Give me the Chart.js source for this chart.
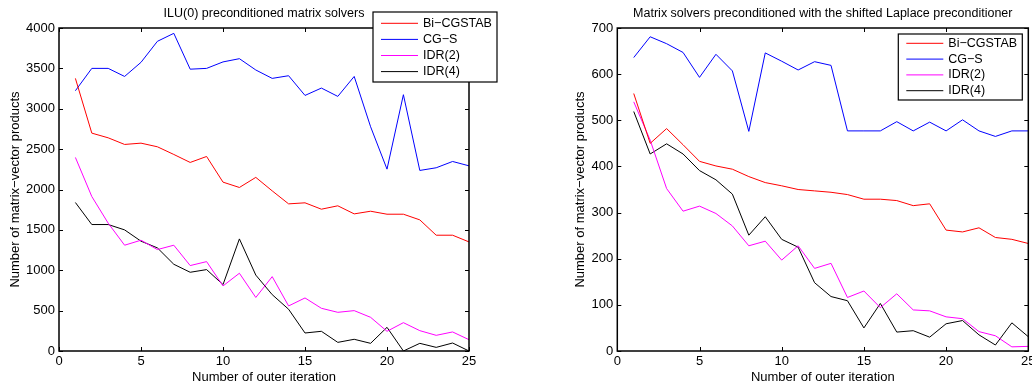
<!DOCTYPE html>
<html>
<head>
<meta charset="utf-8">
<script src="https://cdn.jsdelivr.net/npm/chart.js@4/dist/chart.umd.min.js"></script>
<style>
  html, body { margin: 0; padding: 0; background: #fff; }
  #wrap { position: relative; width: 1032px; height: 385px; }
  .pane { position: absolute; top: 0; width: 516px; height: 385px; }
</style>
</head>
<body>
<div id="wrap">
  <div class="pane" style="left:0"><canvas id="c1"></canvas></div>
  <div class="pane" style="left:516px"><canvas id="c2"></canvas></div>
</div>
<script>
/* ---- data ---- */
const iterations = [1, 2, 3, 4, 5, 6, 7, 8, 9, 10, 11, 12, 13, 14, 15, 16, 17, 18, 19, 20, 21, 22, 23, 24, 25];
const seriesNames = ["Bi\u2212CGSTAB", "CG\u2212S", "IDR(2)", "IDR(4)"];
const seriesColors = ["#ff0000", "#0000ff", "#ff00ff", "#000000"];

// ILU(0) preconditioned
const iluBiCGSTAB = [3376, 2698, 2640, 2558, 2574, 2529, 2434, 2335, 2409, 2091, 2025, 2150, 1983, 1822, 1835, 1756, 1798, 1698, 1731, 1694, 1694, 1624, 1434, 1434, 1351];
const iluCGS      = [3223, 3500, 3500, 3400, 3575, 3835, 3934, 3490, 3500, 3580, 3620, 3480, 3376, 3409, 3165, 3256, 3153, 3400, 2777, 2252, 3174, 2236, 2269, 2347, 2293];
const iluIDR2     = [2397, 1913, 1583, 1310, 1372, 1256, 1310, 1058, 1107, 806, 963, 663, 921, 558, 657, 529, 479, 500, 417, 244, 351, 252, 194, 236, 140];
const iluIDR4     = [1839, 1566, 1566, 1500, 1360, 1277, 1074, 975, 1008, 822, 1388, 940, 698, 517, 223, 244, 107, 145, 95, 293, 0, 95, 45, 99, 0];

// shifted Laplace preconditioned
const slBiCGSTAB = [558, 450, 482, 447, 411, 401, 394, 378, 365, 358, 350, 347, 344, 339, 329, 329, 326, 315, 319, 262, 258, 267, 246, 242, 233];
const slCGS      = [636, 681, 666, 647, 593, 643, 607, 476, 646, 628, 609, 627, 619, 477, 477, 477, 497, 477, 496, 477, 501, 477, 465, 477, 477];
const slIDR2     = [540, 457, 352, 303, 314, 298, 271, 228, 238, 197, 228, 179, 190, 116, 130, 94, 124, 89, 87, 74, 70, 42, 33, 9, 10];
const slIDR4     = [519, 427, 449, 427, 391, 371, 340, 251, 291, 242, 225, 148, 118, 109, 50, 103, 41, 44, 30, 59, 66, 35, 13, 61, 31];

const xTitle = "Number of outer iteration";
const yTitle = "Number of matrix\u2212vector products";

const FONT = '"Liberation Sans", Arial, Helvetica, sans-serif';
Chart.defaults.font.family = FONT;
Chart.defaults.color = "#000";

/* ---- plugin: caja estilo Matlab con ticks hacia dentro ---- */
const matlabFrame = {
  id: "matlabFrame",
  afterDatasetsDraw(chart) {
    const { ctx, chartArea: a, scales: { x, y } } = chart;
    const len = 4;
    ctx.save();
    ctx.strokeStyle = "#000";
    ctx.lineWidth = 1;
    ctx.beginPath();
    x.ticks.forEach((t) => {
      const px = Math.round(x.getPixelForValue(t.value)) + 0.5;
      ctx.moveTo(px, a.bottom); ctx.lineTo(px, a.bottom - len);
      ctx.moveTo(px, a.top); ctx.lineTo(px, a.top + len);
    });
    y.ticks.forEach((t) => {
      const py = Math.round(y.getPixelForValue(t.value)) + 0.5;
      ctx.moveTo(a.left, py); ctx.lineTo(a.left + len, py);
      ctx.moveTo(a.right, py); ctx.lineTo(a.right - len, py);
    });
    ctx.stroke();
    ctx.lineWidth = 1.5;
    ctx.strokeRect(a.left, a.top, a.right - a.left, a.bottom - a.top);
    ctx.restore();
  },
};

/* ---- plugin: leyenda con recuadro ---- */
const matlabLegend = {
  id: "matlabLegend",
  afterDraw(chart, _args, opts) {
    const { ctx, chartArea: a } = chart;
    const x0 = a.right + opts.offsetRight - opts.width;
    const y0 = a.top + opts.offsetTop;
    ctx.save();
    ctx.fillStyle = "#fff";
    ctx.fillRect(x0, y0, opts.width, opts.height);
    ctx.strokeStyle = "#000";
    ctx.lineWidth = 1.2;
    ctx.strokeRect(x0, y0, opts.width, opts.height);
    ctx.font = "12.5px " + FONT;
    ctx.textBaseline = "middle";
    chart.data.datasets.forEach((ds, i) => {
      const yy = y0 + opts.firstRow + i * opts.rowStep;
      ctx.strokeStyle = ds.borderColor;
      ctx.lineWidth = 1;
      ctx.beginPath();
      ctx.moveTo(x0 + 8, yy);
      ctx.lineTo(x0 + 45, yy);
      ctx.stroke();
      ctx.fillStyle = "#000";
      ctx.fillText(ds.label, x0 + 50, yy);
    });
    ctx.restore();
  },
};

function makeChart(canvas, cfg) {
  const datasets = cfg.series.map((vals, i) => ({
    label: seriesNames[i],
    data: iterations.map((it, k) => ({ x: it, y: vals[k] })),
    borderColor: seriesColors[i],
    backgroundColor: seriesColors[i],
    borderWidth: 1,
    pointRadius: 0,
    tension: 0,
    fill: false,
  }));
  return new Chart(canvas, {
    type: "line",
    data: { datasets },
    plugins: [matlabFrame, matlabLegend],
    options: {
      responsive: true,
      maintainAspectRatio: false,
      animation: false,
      layout: { padding: cfg.padding },
      plugins: {
        legend: { display: false },
        tooltip: { enabled: false },
        title: {
          display: true,
          text: cfg.title,
          fullSize: false,
          color: "#000",
          font: { size: 12.5, weight: "normal", lineHeight: 1.2 },
          padding: { top: 6, bottom: 7 },
        },
        matlabLegend: cfg.legend,
      },
      scales: {
        x: {
          type: "linear",
          min: 0,
          max: 25,
          ticks: { stepSize: 5, font: { size: 13 }, color: "#000", padding: 3, callback: (v) => String(v) },
          grid: { display: false, drawTicks: false },
          border: { display: false },
          title: { display: true, text: xTitle, color: "#000", font: { size: 13, lineHeight: 1.2 }, padding: { top: 0, bottom: 0 } },
          afterFit(s) { s.height = 34; s.paddingLeft = 0; s.paddingRight = 0; },
        },
        y: {
          min: 0,
          max: cfg.yMax,
          ticks: { stepSize: cfg.yStep, font: { size: 13 }, color: "#000", padding: 4, callback: (v) => String(v) },
          grid: { display: false, drawTicks: false },
          border: { display: false },
          title: { display: true, text: yTitle, color: "#000", font: { size: 13, lineHeight: 1.2 }, padding: { top: 8, bottom: 0 } },
          afterFit(s) { s.width = cfg.yWidth; s.paddingTop = 0; s.paddingBottom = 0; },
        },
      },
    },
  });
}

makeChart(document.getElementById("c1"), {
  title: "ILU(0) preconditioned matrix solvers",
  series: [iluBiCGSTAB, iluCGS, iluIDR2, iluIDR4],
  yMax: 4000,
  yStep: 500,
  yWidth: 59,
  padding: { left: 0, right: 47, top: 0, bottom: 0 },
  legend: { offsetRight: 28, offsetTop: -16, width: 124, height: 70, firstRow: 11.3, rowStep: 16.1 },
});

makeChart(document.getElementById("c2"), {
  title: "Matrix solvers preconditioned with the shifted Laplace preconditioner",
  series: [slBiCGSTAB, slCGS, slIDR2, slIDR4],
  yMax: 700,
  yStep: 100,
  yWidth: 52.6,
  padding: { left: 48.7, right: 3.7, top: 0, bottom: 0 },
  legend: { offsetRight: -6, offsetTop: 6, width: 124, height: 66, firstRow: 9.3, rowStep: 15.8 },
});
</script>
</body>
</html>
